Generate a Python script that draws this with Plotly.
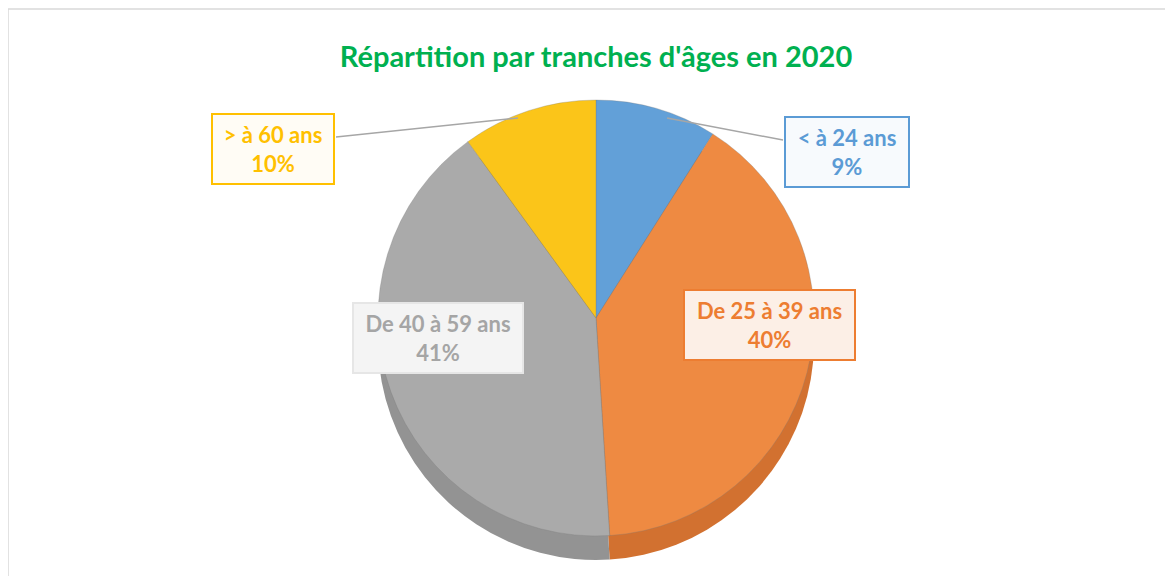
import plotly.graph_objects as go

# Data
categories = ["< à 24 ans", "De 25 à 39 ans", "De 40 à 59 ans", "> à 60 ans"]
shares = [9, 40, 41, 10]
top_colors = ["#62A0D8", "#EE8A42", "#AAAAAA", "#FBC519"]
side_colors = ["#4E86BC", "#D27130", "#939393", "#D9A514"]
text_colors = ["#5B9BD5", "#ED7D31", "#A5A5A5", "#FFC000"]
box_bg = ["#F7FAFD", "#FCEFE6", "#F4F4F4", "#FFFCF5"]

W, H = 1173, 576
OFF = 8  # page body margin

def px_x(x):
    return (x - OFF) / W

def px_y(y):
    return 1 - (y - OFF) / H

cx, cy, r, depth = 596, 318, 218, 24

fig = go.Figure()

# side (extrusion) pie
fig.add_trace(go.Pie(
    labels=categories, values=shares, sort=False, direction="clockwise", rotation=0,
    marker=dict(colors=side_colors, line=dict(width=0)),
    textinfo="none", hoverinfo="skip", showlegend=False,
    domain=dict(x=[px_x(cx - r), px_x(cx + r)], y=[px_y(cy + depth + r), px_y(cy + depth - r)]),
))
# top face pie
fig.add_trace(go.Pie(
    labels=categories, values=shares, sort=False, direction="clockwise", rotation=0,
    marker=dict(colors=top_colors, line=dict(width=0.6, color="rgba(120,120,120,0.5)")),
    textinfo="none", hoverinfo="skip", showlegend=False,
    domain=dict(x=[px_x(cx - r), px_x(cx + r)], y=[px_y(cy + r), px_y(cy - r)]),
))

# label boxes
label_pos = [(847, 152), (769, 325), (438, 338), (273, 149)]
label_w = [116, 163, 162, 114]
for cat, val, (lx, ly), tc, bg, w in zip(categories, shares, label_pos, text_colors, box_bg, label_w):
    fig.add_annotation(
        x=px_x(lx), y=px_y(ly), xref="paper", yref="paper",
        xanchor="center", yanchor="middle",
        text=f"{cat}<br>{val}%", showarrow=False,
        font=dict(family="Lato", size=22, color=tc, weight="bold"),
        bgcolor=bg, bordercolor=tc if cat != "De 40 à 59 ans" else "#E6E6E6",
        borderwidth=2, borderpad=3, width=w, height=62,
        align="center", valign="middle",
    )

# leader lines
fig.add_shape(type="line", xref="paper", yref="paper",
              x0=px_x(336), y0=px_y(137), x1=px_x(518), y1=px_y(118),
              line=dict(color="#A6A6A6", width=1.5))
fig.add_shape(type="line", xref="paper", yref="paper",
              x0=px_x(667), y0=px_y(118), x1=px_x(783), y1=px_y(140),
              line=dict(color="#A6A6A6", width=1.5))

# chart frame
fig.add_shape(type="rect", xref="paper", yref="paper",
              x0=px_x(8), y0=px_y(620), x1=px_x(1220), y1=px_y(9),
              line=dict(color="#D9D9D9", width=1.5), fillcolor="rgba(0,0,0,0)", layer="below")

fig.update_layout(
    width=W, height=H,
    margin=dict(l=0, r=0, t=0, b=0),
    paper_bgcolor="white", plot_bgcolor="white",
    title=dict(text="Répartition par tranches d'âges en 2020", x=px_x(596), xanchor="center",
               y=px_y(57), yanchor="middle", yref="container",
               font=dict(family="Lato", size=29, color="#00B050", weight="bold")),
)

fig.write_html("out.html")
